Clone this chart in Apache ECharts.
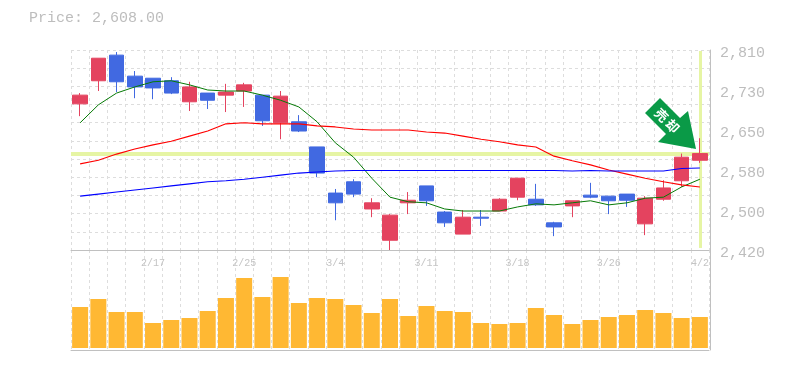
<!DOCTYPE html>
<html><head><meta charset="utf-8">
<style>html,body{margin:0;padding:0;background:#fff}#c{width:785px;height:370px}</style>
<script src="https://cdn.jsdelivr.net/npm/echarts@6/dist/echarts.min.js"></script>
</head><body><div id="c"></div>
<script>
const dates = ['2/10','2/12','2/13','2/14','2/17','2/18','2/19','2/20','2/21','2/25','2/26','2/27','2/28','3/3','3/4','3/5','3/6','3/7','3/10','3/11','3/12','3/13','3/14','3/17','3/18','3/19','3/21','3/24','3/25','3/26','3/27','3/28','3/31','4/1','4/2'];
const opens = [2705,2750,2800,2759,2755,2750,2709,2726,2722,2730,2722,2668,2670,2621,2531,2553,2500,2439,2512,2545,2494,2451,2484,2496,2523,2519,2473,2506,2527,2525,2529,2471,2519,2555,2595];
const closes = [2722,2794,2748,2738,2736,2726,2738,2712,2728,2742,2672,2720,2652,2570,2512,2529,2512,2488,2517,2516,2473,2484,2482,2519,2560,2508,2465,2516,2523,2516,2517,2521,2541,2601,2608];
const lows = [2681,2730,2728,2716,2714,2724,2691,2695,2689,2699,2662,2636,2650,2562,2478,2523,2484,2420,2490,2506,2465,2451,2467,2496,2517,2506,2447,2484,2521,2490,2504,2449,2516,2543,2590];
const highs = [2726,2794,2806,2769,2755,2757,2748,2726,2744,2746,2722,2730,2683,2621,2539,2558,2521,2490,2533,2545,2496,2498,2498,2521,2560,2549,2475,2516,2551,2525,2529,2525,2556,2608,2638];
const maShort = [2668,2703,2726,2738,2748,2750,2742,2732,2730,2730,2722,2712,2699,2670,2629,2601,2560,2523,2514,2512,2500,2496,2496,2496,2504,2510,2508,2512,2516,2508,2512,2521,2523,2543,2558];
const maMid = [2588,2595,2607,2617,2625,2632,2642,2652,2666,2668,2666,2666,2666,2662,2660,2656,2654,2654,2654,2650,2648,2642,2636,2631,2625,2621,2603,2594,2586,2576,2568,2560,2553,2547,2543];
const maLong = [2525,2529,2533,2537,2541,2545,2549,2553,2555,2558,2562,2566,2570,2572,2574,2575,2575,2575,2575,2575,2575,2575,2575,2575,2575,2575,2575,2574,2575,2574,2574,2574,2574,2579,2580];
const volumes = [41,49,36,36,25,28,30,37,50,70,51,71,45,50,49,43,35,49,32,42,37,36,25,24,25,40,33,24,28,31,33,38,35,30,31];
const priceTicks = [2420,2498,2576,2654,2732,2810];
const lastPrice = 2608;
const titleText = 'Price: 2,608.00';

const MONO = '"Liberation Mono", monospace';
const gridDash = {color:'#dddddd', width:1, type:[3,3]};
const spine = {color:'#c0c0c0', width:1};
const candleData = dates.map((_, i) => [opens[i], closes[i], lows[i], highs[i]]);
const chart = echarts.init(document.getElementById('c'), null, {renderer:'canvas'});
chart.setOption({
  animation:false,
  backgroundColor:'#fff',
  title:{text:titleText, left:29, top:11, padding:0, textStyle:{fontFamily:MONO, fontSize:15, fontWeight:'normal', color:'#bdbdbd'}},
  grid:[
    {left:71, top:50, width:638, height:200},
    {left:71, top:250, width:638, height:100}
  ],
  xAxis:[
    {type:'category', gridIndex:0, data:dates, boundaryGap:true,
     axisLine:{onZero:false, lineStyle:spine}, axisTick:{show:false},
     axisLabel:{interval:(i)=> i % 5 === 4, margin:8, fontFamily:MONO, fontSize:10, color:'#c4c4c4', hideOverlap:false},
     splitLine:{show:true, interval:0, lineStyle:gridDash}},
    {type:'category', gridIndex:1, data:dates, boundaryGap:true,
     axisLine:{onZero:false, lineStyle:spine}, axisTick:{show:false}, axisLabel:{show:false},
     splitLine:{show:true, interval:0, lineStyle:gridDash}}
  ],
  yAxis:[
    {type:'value', gridIndex:0, position:'right', offset:1, min:2420, max:2810,
     axisLine:{show:true, lineStyle:spine}, axisTick:{show:false}, splitLine:{show:false},
     axisLabel:{customValues:priceTicks, margin:10, verticalAlign:'top', lineHeight:6, fontFamily:MONO, fontSize:15, color:'#bdbdbd',
       formatter:(v)=> String(Math.round(v/10)*10).replace(/(\d)(\d{3})$/, '$1,$2')}},
    {type:'value', gridIndex:0, position:'left', min:0, max:11, interval:1,
     axisLine:{show:false}, axisTick:{show:false}, axisLabel:{show:false},
     splitLine:{show:true, lineStyle:gridDash}},
    {type:'value', gridIndex:1, position:'right', offset:1, min:-2, max:98,
     axisLine:{show:true, lineStyle:spine}, axisTick:{show:false}, axisLabel:{show:false}, splitLine:{show:false}}
  ],
  series:[
    {type:'line', xAxisIndex:0, yAxisIndex:0, data:[], z:1, silent:true,
     markLine:{silent:true, symbol:'none', z:1, label:{show:false},
       lineStyle:{color:'#e6f5a4', type:'solid'},
       data:[
         {yAxis:lastPrice, lineStyle:{width:4, color:'#e6f5a4', type:'solid'}},
         [{xAxis:34, yAxis:2808, lineStyle:{width:3, color:'#e6f5a4', type:'solid'}},{xAxis:34, yAxis:2424}]
       ]}},
    {type:'candlestick', name:'price', xAxisIndex:0, yAxisIndex:0, data:candleData, barWidth:15, z:3,
     itemStyle:{color:'#e4435f', borderColor:'#e4435f', color0:'#4169e1', borderColor0:'#4169e1', borderWidth:1}},
    {type:'line', name:'maShort', xAxisIndex:0, yAxisIndex:0, data:maShort, symbol:'none', z:4, lineStyle:{color:'#067a06', width:1}},
    {type:'line', name:'maMid', xAxisIndex:0, yAxisIndex:0, data:maMid, symbol:'none', z:4, lineStyle:{color:'#ff0000', width:1.1}},
    {type:'line', name:'maLong', xAxisIndex:0, yAxisIndex:0, data:maLong, symbol:'none', z:4, lineStyle:{color:'#0000ff', width:1.1}},
    {type:'bar', name:'volume', xAxisIndex:1, yAxisIndex:2, data:volumes, barWidth:16, itemStyle:{color:'#ffb833'}}
  ],
  graphic:[
    {type:'polygon', z:20, shape:{points:[[660,98],[680,118],[688,111],[696,149],[658,142],[666,134],[645,113]]}, style:{fill:'#0a9a47'}},
    {type:'text', z:21, x:661.5, y:115, rotation:-Math.PI/4, style:{text:'売', font:'bold 13px "Noto Sans CJK JP"', fill:'#fff', align:'center', verticalAlign:'middle'}},
    {type:'text', z:21, x:672.5, y:126, rotation:-Math.PI/4, style:{text:'却', font:'bold 13px "Noto Sans CJK JP"', fill:'#fff', align:'center', verticalAlign:'middle'}}
  ]
});
</script></body></html>
